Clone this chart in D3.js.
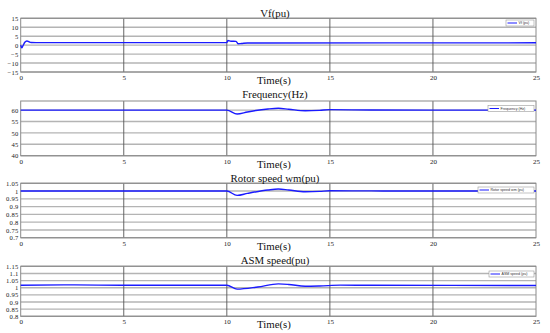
<!DOCTYPE html>
<html><head><meta charset="utf-8">
<script src="https://cdn.jsdelivr.net/npm/d3@7"></script>
<style>body{margin:0;background:#fff;} text{font-family:"Liberation Serif","Times New Roman",serif;}</style>
</head><body><svg id="c" width="550" height="333"></svg>
<script>
// ---- data ----
const xTicks = [0, 5, 10, 15, 20, 25];
const titles = ["Vf(pu)", "Frequency(Hz)", "Rotor speed wm(pu)", "ASM speed(pu)"];
const legendLabels = ["Vf (pu)", "Frequency (Hz)", "Rotor speed wm (pu)", "ASM speed (pu)"];
const yTicksVf = [-15, -10, -5, 0, 5, 10, 15];
const yTicksFreq = [40, 45, 50, 55, 60];
const yTicksRotor = [0.7, 0.75, 0.8, 0.85, 0.9, 0.95, 1, 1.05];
const yTicksAsm = [0.8, 0.85, 0.9, 0.95, 1, 1.05, 1.1, 1.15];
const yLabelsRotor = ["0.7","0.75","0.8","0.85","0.9","0.95","1","1.05"];
const yLabelsAsm = ["0.8","0.85","0.9","0.95","1","1.05","1.1","1.15"];

const tVf = [0, 0.05, 0.1, 0.2, 0.3, 0.4, 0.5, 1, 10, 10.05, 10.2, 10.45, 10.55, 10.7, 11, 25];
const vf  = [0, -1.5, -0.6, 1.6, 2.3, 1.9, 1.5, 1.4, 1.4, 2.6, 2.2, 2.1, 0.8, 0.9, 1.2, 1.3];

const tFreq = [0, 10, 10.5, 11, 12, 12.5, 13, 13.8, 14.5, 15, 17, 20, 25];
const freq  = [60, 60, 58.3, 59.2, 60.5, 60.8, 60.4, 59.7, 59.9, 60.2, 60.05, 60, 60];

const tRotor = [0, 10, 10.5, 11, 12, 12.5, 13, 13.8, 14.5, 15, 17, 20, 25];
const rotor  = [1, 1, 0.972, 0.985, 1.007, 1.013, 1.007, 0.996, 0.998, 1.002, 1.001, 1, 1];

const tAsm = [0, 2.5, 5, 10, 10.5, 11.5, 12.5, 13, 13.8, 14.5, 15.5, 17, 25];
const asm  = [1.017, 1.02, 1.017, 1.017, 0.99, 1.005, 1.027, 1.023, 1.01, 1.012, 1.018, 1.017, 1.016];

// ---- layout ----
const L = 20.7, R = 536;
const panels = [
  {top: 18.3, bot: 72, domain: [-15, 15], ticks: yTicksVf, labels: null, t: tVf, v: vf, titleY: 16.5, legend: [506, 20, 28]},
  {top: 101, bot: 155.7, domain: [40, 64], ticks: yTicksFreq, labels: null, t: tFreq, v: freq, titleY: 97.5, legend: [488, 105.5, 46]},
  {top: 183.3, bot: 237.7, domain: [0.7, 1.05], ticks: yTicksRotor, labels: yLabelsRotor, t: tRotor, v: rotor, titleY: 181.5, legend: [478, 187, 56]},
  {top: 266.3, bot: 316.3, domain: [0.8, 1.15], ticks: yTicksAsm, labels: yLabelsAsm, t: tAsm, v: asm, titleY: 263.5, legend: [489, 271, 45]}
];

const svg = d3.select("#c");
const x = d3.scaleLinear().domain([0, 25]).range([L, R]);

panels.forEach((p, i) => {
  const y = d3.scaleLinear().domain(p.domain).range([p.bot, p.top]);
  const g = svg.append("g");
  g.selectAll(".hg").data(p.ticks).enter().append("line")
    .attr("x1", L).attr("x2", R).attr("y1", d => y(d)).attr("y2", d => y(d))
    .attr("stroke", "#b4b4b4").attr("stroke-width", 1.4);
  g.selectAll(".vg").data(xTicks.slice(1, -1)).enter().append("line")
    .attr("x1", d => x(d)).attr("x2", d => x(d)).attr("y1", p.top).attr("y2", p.bot)
    .attr("stroke", "#555").attr("stroke-width", 0.9);
  g.append("rect").attr("x", L).attr("y", p.top).attr("width", R - L).attr("height", p.bot - p.top)
    .attr("fill", "none").attr("stroke", "#8a8a8a").attr("stroke-width", 1);
  const ya = d3.axisLeft(y).tickValues(p.ticks).tickSize(0).tickPadding(2)
    .tickFormat((d, k) => p.labels ? p.labels[k] : d3.format("d")(d));
  const yg = g.append("g").attr("transform", `translate(${L},0)`).call(ya);
  yg.select(".domain").remove();
  yg.selectAll("text").attr("font-size", 6.6).attr("fill", "#222").attr("letter-spacing", 0.3)
    .style("font-family", "'Liberation Serif',serif");
  const xa = d3.axisBottom(x).tickValues(xTicks).tickSize(0).tickPadding(3).tickFormat(d3.format("d"));
  const xg = g.append("g").attr("transform", `translate(0,${p.bot})`).call(xa);
  xg.select(".domain").remove();
  xg.selectAll("text").attr("font-size", 7).attr("fill", "#222")
    .style("font-family", "'Liberation Serif',serif");
  g.append("text").attr("x", 275).attr("y", p.titleY).attr("text-anchor", "middle")
    .attr("font-size", 10.8).attr("fill", "#111").text(titles[i]);
  g.append("text").attr("x", 274).attr("y", p.bot + 12).attr("text-anchor", "middle")
    .attr("font-size", 10.8).attr("fill", "#111").text("Time(s)");
  const data = p.t.map((t, k) => [t, p.v[k]]);
  g.append("path").datum(data)
    .attr("d", d3.line().x(d => x(d[0])).y(d => y(d[1])).curve(d3.curveMonotoneX))
    .attr("fill", "none").attr("stroke", "#1a1aff").attr("stroke-width", 1.4);
  const [lx, ly, lw] = p.legend;
  g.append("rect").attr("x", lx).attr("y", ly).attr("width", lw).attr("height", 6)
    .attr("fill", "#fff").attr("stroke", "#999").attr("stroke-width", 0.6);
  g.append("line").attr("x1", lx + 1.5).attr("x2", lx + 11).attr("y1", ly + 3).attr("y2", ly + 3)
    .attr("stroke", "#1a1aff").attr("stroke-width", 1);
  g.append("text").attr("x", lx + 12.5).attr("y", ly + 4.3).attr("font-size", 3.6)
    .attr("fill", "#333").style("font-family", "'Liberation Sans',sans-serif").text(legendLabels[i]);
});
</script></body></html>
